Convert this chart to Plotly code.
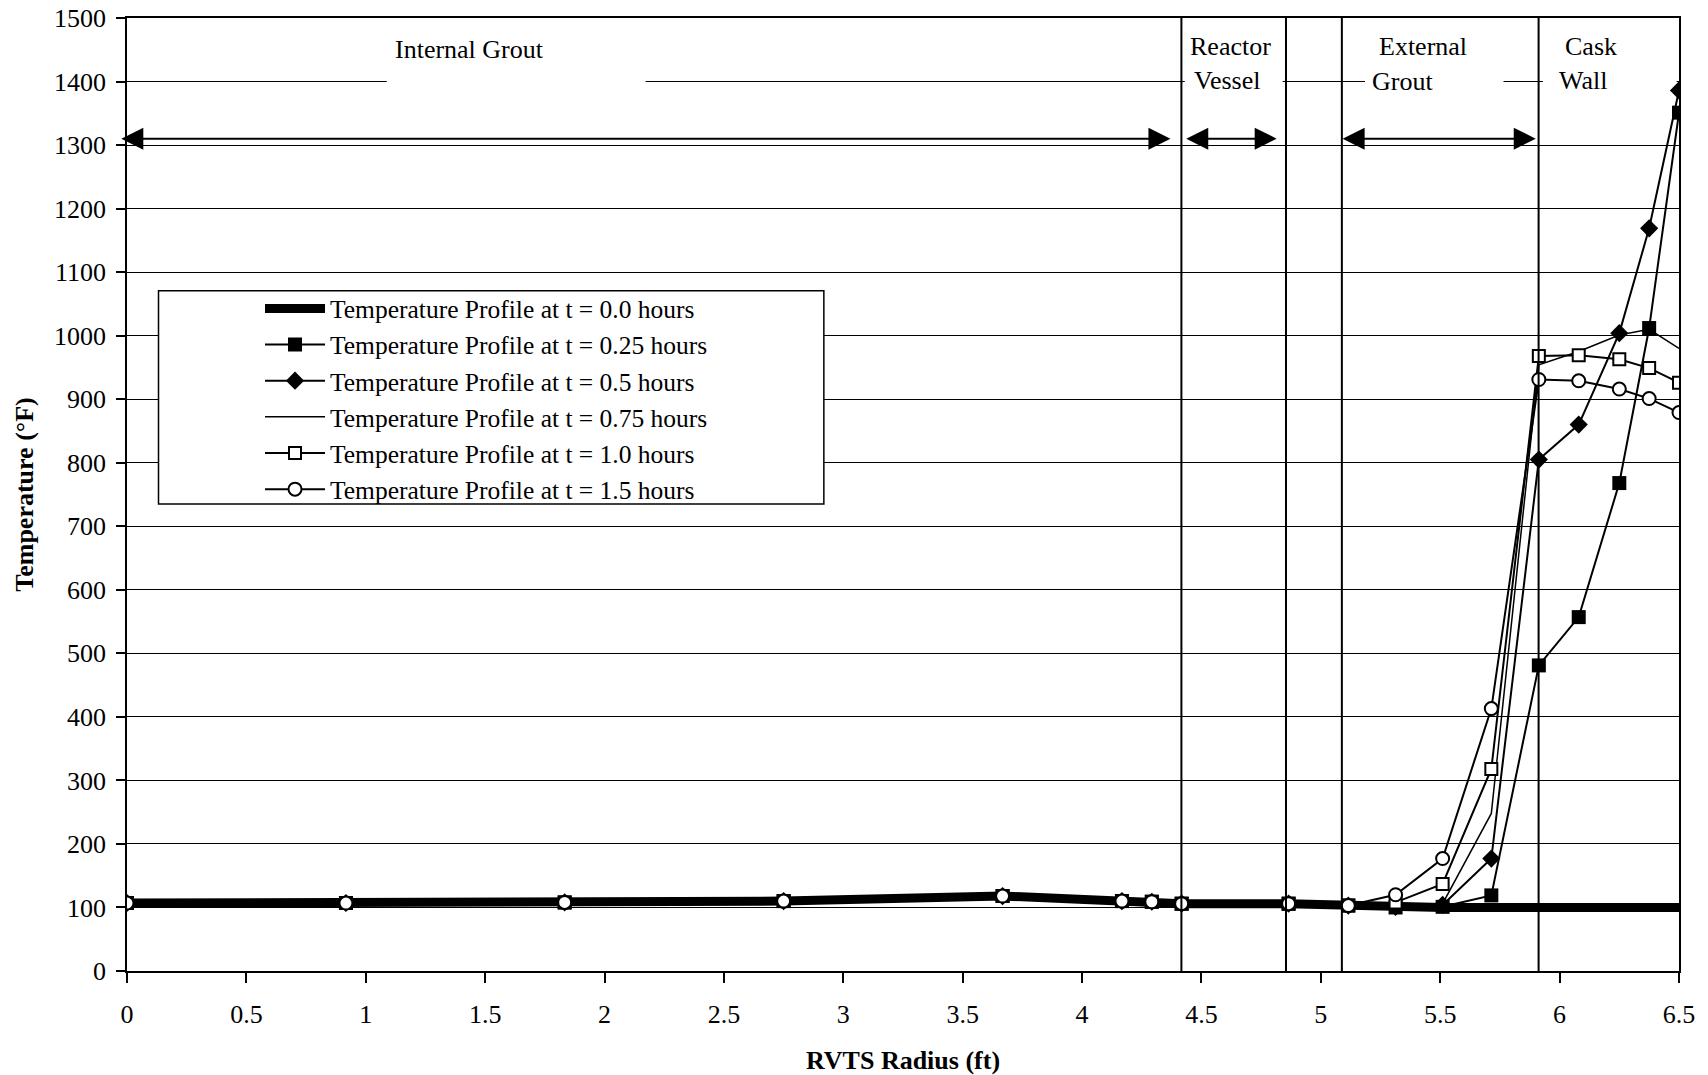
import plotly.graph_objects as go

# Radial node positions (ft)
radius_ft = [0.0, 0.917, 1.833, 2.75, 3.667, 4.167, 4.292, 4.417, 4.865, 5.115,
             5.313, 5.51, 5.714, 5.913, 6.08, 6.25, 6.375, 6.5]

# Temperature profiles (deg F) at each time
temp_t0_00 = [107, 107, 108, 110, 118, 110, 109, 106, 106, 103,
              100, 100, 100, 100, 100, 100, 100, 100]
temp_t0_25 = [107, 107, 108, 110, 118, 110, 109, 106, 106, 103,
              100, 101, 119, 481, 557, 768, 1012, 1351]
temp_t0_50 = [107, 107, 108, 110, 118, 110, 109, 106, 106, 103,
              101, 104, 177, 805, 860, 1004, 1169, 1386]
temp_t0_75 = [107, 107, 108, 110, 118, 110, 109, 106, 106, 103,
              104, 106, 248, 954, 975, 1001, 1010, 980]
temp_t1_00 = [107, 107, 108, 110, 118, 110, 109, 106, 106, 103,
              108, 137, 318, 968, 969, 963, 949, 926]
temp_t1_50 = [107, 107, 108, 110, 118, 110, 109, 106, 106, 103,
              120, 177, 413, 931, 929, 916, 901, 879]

series_names = [
    "Temperature Profile at t = 0.0 hours",
    "Temperature Profile at t = 0.25 hours",
    "Temperature Profile at t = 0.5 hours",
    "Temperature Profile at t = 0.75 hours",
    "Temperature Profile at t = 1.0 hours",
    "Temperature Profile at t = 1.5 hours",
]

# Material region boundaries (ft)
region_bounds = [4.416, 4.854, 5.088, 5.912]

FONT = "Liberation Serif, Times New Roman, serif"

fig = go.Figure()

styles = [
    dict(mode="lines", line=dict(color="black", width=9)),
    dict(mode="lines+markers", line=dict(color="black", width=2),
         marker=dict(symbol="square", size=14, color="black")),
    dict(mode="lines+markers", line=dict(color="black", width=2),
         marker=dict(symbol="diamond", size=14, color="black")),
    dict(mode="lines", line=dict(color="black", width=1.5)),
    dict(mode="lines+markers", line=dict(color="black", width=2),
         marker=dict(symbol="square", size=12, color="white",
                     line=dict(color="black", width=2))),
    dict(mode="lines+markers", line=dict(color="black", width=2),
         marker=dict(symbol="circle", size=13, color="white",
                     line=dict(color="black", width=2))),
]
profiles = [temp_t0_00, temp_t0_25, temp_t0_50, temp_t0_75, temp_t1_00, temp_t1_50]

for name, temps, st in zip(series_names, profiles, styles):
    fig.add_trace(go.Scatter(x=radius_ft, y=temps, name=name, **st))

shapes = []
# region divider lines
for xb in region_bounds:
    shapes.append(dict(type="line", xref="x", yref="y", x0=xb, x1=xb, y0=0, y1=1500,
                       line=dict(color="black", width=2), layer="above"))
# label backgrounds interrupting the 1400 gridline
for x0, x1 in [(1.088, 2.172), (4.43, 4.84), (5.185, 5.765), (5.93, 6.49)]:
    shapes.append(dict(type="rect", xref="x", yref="y", x0=x0, x1=x1, y0=1385, y1=1415,
                       fillcolor="white", line=dict(width=0), layer="between"))
# legend frame
shapes.append(dict(type="rect", xref="paper", yref="paper", x0=0.0203, x1=0.449,
                   y0=0.490, y1=0.7138, fillcolor="white",
                   line=dict(color="black", width=1.5), layer="above"))

annotations = []
label_font = dict(family=FONT, size=26, color="black")
for txt, xx, yy in [("Internal Grout", 1.433, 1450), ("Reactor", 4.623, 1455),
                    ("Vessel", 4.605, 1402), ("External", 5.427, 1455),
                    ("Grout", 5.34, 1400), ("Cask", 6.13, 1455), ("Wall", 6.10, 1402)]:
    annotations.append(dict(x=xx, y=yy, xref="x", yref="y", text=txt, showarrow=False,
                            font=label_font))
# double-headed span arrows
for xa, xb in [(-0.03, 4.37), (4.43, 4.815), (5.085, 5.90)]:
    annotations.append(dict(x=xb, y=1310, ax=xa, ay=1310, xref="x", yref="y",
                            axref="x", ayref="y", text="", showarrow=True,
                            arrowhead=2, startarrowhead=2, arrowside="end+start",
                            arrowwidth=2, arrowsize=2.2, startarrowsize=2.2,
                            arrowcolor="black", standoff=0, startstandoff=0))

fig.update_layout(
    width=1708, height=1075,
    margin=dict(l=127, r=29, t=18, b=104),
    paper_bgcolor="white", plot_bgcolor="white",
    font=dict(family=FONT, size=25, color="black"),
    showlegend=True,
    legend=dict(x=0.0857, y=0.7195, xanchor="left", yanchor="top",
                bgcolor="rgba(0,0,0,0)", borderwidth=0, itemwidth=60,
                font=dict(family=FONT, size=25.5, color="black"),
                tracegroupgap=0),
    shapes=shapes,
    annotations=annotations,
    xaxis=dict(range=[0, 6.5], tick0=0, dtick=0.5, showgrid=False, zeroline=False,
               showline=True, linecolor="black", linewidth=1.5, mirror=True,
               ticks="outside", ticklen=10, tickwidth=1.5, tickcolor="black",
               ticklabelstandoff=9, automargin=False,
               tickfont=dict(family=FONT, size=26),
               title=dict(text="<b>RVTS Radius (ft)</b>", standoff=25,
                          font=dict(family=FONT, size=26))),
    yaxis=dict(range=[0, 1500], tick0=0, dtick=100, showgrid=True, gridcolor="black",
               gridwidth=1, zeroline=False, showline=True, linecolor="black",
               linewidth=1.5, mirror=True, ticks="outside", ticklen=9, tickwidth=1.5,
               ticklabelstandoff=5, automargin=False,
               tickcolor="black", tickfont=dict(family=FONT, size=26),
               title=dict(text="<b>Temperature (°F)</b>", standoff=13,
                          font=dict(family=FONT, size=26))),
)

fig.write_html("out.html")
